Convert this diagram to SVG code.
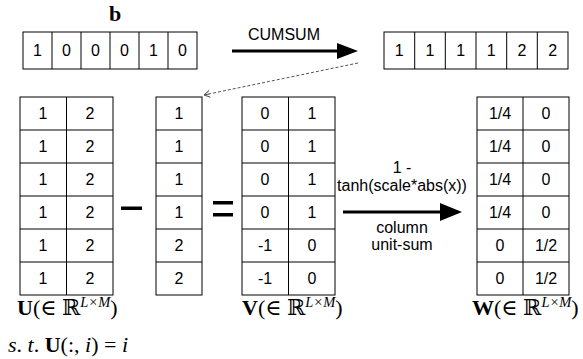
<svg xmlns="http://www.w3.org/2000/svg" width="583" height="359" viewBox="0 0 583 359">
<style>
.c{fill:#fff;stroke:#000;stroke-width:1}
.t{font-family:"Liberation Sans",Arial,sans-serif;font-size:16px;text-anchor:middle;fill:#000}
.l{font-family:"Liberation Sans",Arial,sans-serif;font-size:16px;text-anchor:middle;fill:#000}
.m{font-family:"Liberation Serif","DejaVu Serif",serif;font-size:22px;fill:#000}
.b{font-weight:bold}
.i{font-style:italic}
.s{font-size:14.5px;font-style:italic}
</style>
<defs>
<marker id="ah" markerWidth="8" markerHeight="8" refX="6" refY="4" orient="auto" markerUnits="userSpaceOnUse">
<path d="M6,4 L0,0.5 M6,4 L0,7.5 M6,4 L1,4" fill="none" stroke="#555" stroke-width="1"/>
</marker>
</defs>

<g id="b-label"><text class="m b" x="115" y="21" text-anchor="middle" font-size="18">b</text></g>

<g id="b-array">
<rect class="c" x="23" y="32" width="174" height="37"/>
<path d="M52,32V69M81,32V69M110,32V69M139,32V69M168,32V69" stroke="#000"/>
<text class="t" x="37.5" y="56">1</text><text class="t" x="66.5" y="56">0</text><text class="t" x="95.5" y="56">0</text><text class="t" x="124.5" y="56">0</text><text class="t" x="153.5" y="56">1</text><text class="t" x="182.5" y="56">0</text>
</g>

<g id="cumsum-array">
<rect class="c" x="384" y="32" width="184" height="37"/>
<path d="M414.7,32V69M445.3,32V69M476,32V69M506.7,32V69M537.3,32V69" stroke="#000"/>
<text class="t" x="399.3" y="56">1</text><text class="t" x="430" y="56">1</text><text class="t" x="460.7" y="56">1</text><text class="t" x="491.3" y="56">1</text><text class="t" x="522" y="56">2</text><text class="t" x="552.7" y="56">2</text>
</g>

<g id="U">
<rect class="c" x="20" y="97" width="93" height="198"/>
<path d="M66.5,97V295M20,130H113M20,163H113M20,196H113M20,229H113M20,262H113" stroke="#000"/>
<g class="t">
<text x="43" y="119">1</text><text x="90" y="119">2</text>
<text x="43" y="152">1</text><text x="90" y="152">2</text>
<text x="43" y="185">1</text><text x="90" y="185">2</text>
<text x="43" y="218">1</text><text x="90" y="218">2</text>
<text x="43" y="251">1</text><text x="90" y="251">2</text>
<text x="43" y="284">1</text><text x="90" y="284">2</text>
</g>
</g>

<g id="minus"><rect x="121" y="206.5" width="21" height="3.5" fill="#000"/></g>

<g id="vec">
<rect class="c" x="156" y="97" width="46" height="198"/>
<path d="M156,130H202M156,163H202M156,196H202M156,229H202M156,262H202" stroke="#000"/>
<g class="t">
<text x="179" y="119">1</text><text x="179" y="152">1</text><text x="179" y="185">1</text><text x="179" y="218">1</text><text x="179" y="251">2</text><text x="179" y="284">2</text>
</g>
</g>

<g id="equals"><rect x="213" y="201" width="20" height="3.5" fill="#000"/><rect x="213" y="213" width="20" height="3.5" fill="#000"/></g>

<g id="V">
<rect class="c" x="242" y="97" width="93" height="198"/>
<path d="M288.5,97V295M242,130H335M242,163H335M242,196H335M242,229H335M242,262H335" stroke="#000"/>
<g class="t">
<text x="265" y="119">0</text><text x="312" y="119">1</text>
<text x="265" y="152">0</text><text x="312" y="152">1</text>
<text x="265" y="185">0</text><text x="312" y="185">1</text>
<text x="265" y="218">0</text><text x="312" y="218">1</text>
<text x="265" y="251">-1</text><text x="312" y="251">0</text>
<text x="265" y="284">-1</text><text x="312" y="284">0</text>
</g>
</g>

<g id="W">
<rect class="c" x="477" y="97" width="92" height="198"/>
<path d="M523,97V295M477,130H569M477,163H569M477,196H569M477,229H569M477,262H569" stroke="#000"/>
<g class="t">
<text x="500" y="119">1/4</text><text x="546" y="119">0</text>
<text x="500" y="152">1/4</text><text x="546" y="152">0</text>
<text x="500" y="185">1/4</text><text x="546" y="185">0</text>
<text x="500" y="218">1/4</text><text x="546" y="218">0</text>
<text x="500" y="251">0</text><text x="546" y="251">1/2</text>
<text x="500" y="284">0</text><text x="546" y="284">1/2</text>
</g>
</g>

<g id="connectors">
<line x1="232" y1="51" x2="338" y2="51" stroke="#000" stroke-width="3"/>
<polygon points="337,43 358,51 337,59" fill="#000"/>
<line x1="343" y1="212" x2="441" y2="212" stroke="#000" stroke-width="3"/>
<polygon points="440,203 462,212 440,221" fill="#000"/>
<line x1="358" y1="63" x2="204" y2="95" stroke="#555" stroke-width="1" stroke-dasharray="3,2" marker-end="url(#ah)"/>
</g>

<g id="labels">
<text class="l" x="284" y="40">CUMSUM</text>
<text class="l" x="402" y="173">1 -</text>
<text class="l" x="402" y="191">tanh(scale*abs(x))</text>
<text class="l" x="402" y="233">column</text>
<text class="l" x="402" y="250">unit-sum</text>
</g>

<g id="math">
<text class="m" x="17" y="315"><tspan class="b">U</tspan>(∈ ℝ<tspan class="s" dy="-8">L×M</tspan><tspan dy="8">)</tspan></text>
<text class="m" x="8" y="352"><tspan class="i">s</tspan>. <tspan class="i">t</tspan>. <tspan class="b">U</tspan>(:, <tspan class="i">i</tspan>) = <tspan class="i">i</tspan></text>
<text class="m" x="242" y="315"><tspan class="b">V</tspan>(∈ ℝ<tspan class="s" dy="-8">L×M</tspan><tspan dy="8">)</tspan></text>
<text class="m" x="472" y="315"><tspan class="b">W</tspan>(∈ ℝ<tspan class="s" dy="-8">L×M</tspan><tspan dy="8">)</tspan></text>
</g>
</svg>
